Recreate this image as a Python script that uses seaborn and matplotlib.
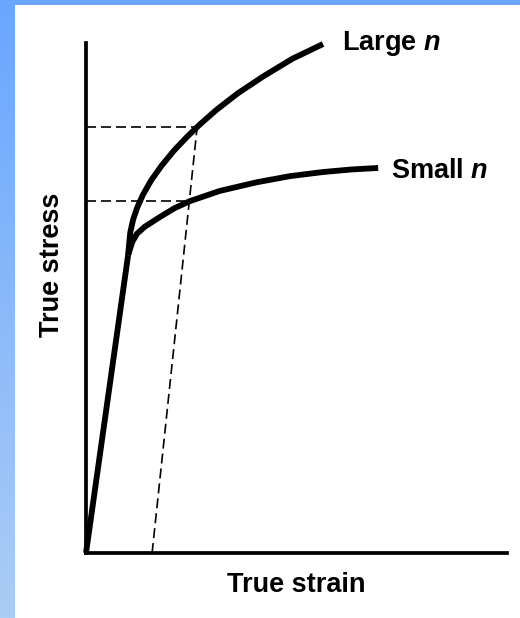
import numpy as np
import matplotlib
matplotlib.use('Agg')
import matplotlib.pyplot as plt
import matplotlib.patches as patches
from matplotlib.colors import LinearSegmentedColormap
import seaborn as sns

# Curve data (arbitrary units: strain and stress both on 0-100 scale)
elastic_strain = [0, 10.0]
elastic_stress = [0, 58.4]

large_strain = [10.0, 10.5, 11.2, 12.2, 13.5, 15.5, 18.0, 21.0, 24.0, 27.0, 31.0, 36.0, 42.0, 49.0, 56.3]
large_stress = [58.4, 62.8, 65.4, 67.8, 70.2, 73.1, 76.0, 79.0, 81.6, 84.0, 86.9, 90.1, 93.4, 96.9, 99.8]

small_strain = [10.0, 11.0, 12.1, 14.0, 17.6, 21.0, 24.7, 31.8, 40.6, 48.5, 56.3, 63.0, 69.4]
small_stress = [58.4, 61.0, 62.6, 64.0, 65.9, 67.6, 69.0, 71.0, 72.7, 73.9, 74.7, 75.2, 75.5]

# offset construction lines
offset_strain = [15.7, 26.4]
offset_stress = [0, 83.5]
hline_stress = [83.5, 69.0]
hline_end = [26.4, 24.7]

labels = ['Large $n$', 'Small $n$']
label_pos = [(60.8, 98.6), (72.4, 73.5)]

sns.set_style('white')
plt.rcParams['font.family'] = ['Liberation Sans', 'DejaVu Sans']
plt.rcParams['font.weight'] = 'bold'
plt.rcParams['text.color'] = 'black'
plt.rcParams['mathtext.fontset'] = 'custom'
plt.rcParams['mathtext.rm'] = 'Liberation Sans:bold'
plt.rcParams['mathtext.it'] = 'Liberation Sans:bold:italic'

W, H = 520, 618
fig = plt.figure(figsize=(W / 100, H / 100), dpi=100)

# blue frame background
bg = fig.add_axes([0, 0, 1, 1])
bg.axis('off')
cmap = LinearSegmentedColormap.from_list('frame', ['#6aa6ff', '#aacdf5'])
grad = np.linspace(0, 1, 256).reshape(-1, 1)
bg.imshow(grad, aspect='auto', cmap=cmap, extent=[0, 1, 0, 1], origin='upper')
bg.add_patch(patches.Rectangle((15 / W, 0), 1, 1 - 5 / H, facecolor='white',
                               edgecolor='none', transform=bg.transAxes))
bg.set_xlim(0, 1)
bg.set_ylim(0, 1)

ax = fig.add_axes([86 / W, 65 / H, 421 / W, 510 / H])
ax.patch.set_alpha(0)
ax.set_xlim(0, 100)
ax.set_ylim(0, 100)

curve_kw = dict(color='black', linewidth=4.2, estimator=None, sort=False,
                solid_joinstyle='round', solid_capstyle='butt', ax=ax, legend=False)
sns.lineplot(x=elastic_strain, y=elastic_stress, **curve_kw)
sns.lineplot(x=large_strain, y=large_stress, **curve_kw)
sns.lineplot(x=small_strain, y=small_stress, **curve_kw)
for line in ax.lines:
    line.set_clip_on(False)

dash_kw = dict(color='black', linewidth=1.2, dashes=(6, 3))
ax.plot(offset_strain, offset_stress, **dash_kw)
for s, e in zip(hline_stress, hline_end):
    ax.plot([0, e], [s, s], **dash_kw)

for text, (x, y) in zip(labels, label_pos):
    ax.text(x, y, text, fontsize=19.5, fontweight='bold', color='black',
            ha='left', va='baseline')

sns.despine(ax=ax)
for side in ['left', 'bottom']:
    ax.spines[side].set_linewidth(2.7)
    ax.spines[side].set_color('black')
ax.set_xticks([])
ax.set_yticks([])

fig.text(296 / W, 1 - 592 / H, 'True strain', fontsize=19.5, fontweight='bold',
         color='black', ha='center', va='baseline')
fig.text(52 / W, 1 - 265 / H, 'True stress', fontsize=19.5, fontweight='bold',
         color='black', ha='center', va='center', rotation=90)

fig.savefig('out.png', dpi=100)
